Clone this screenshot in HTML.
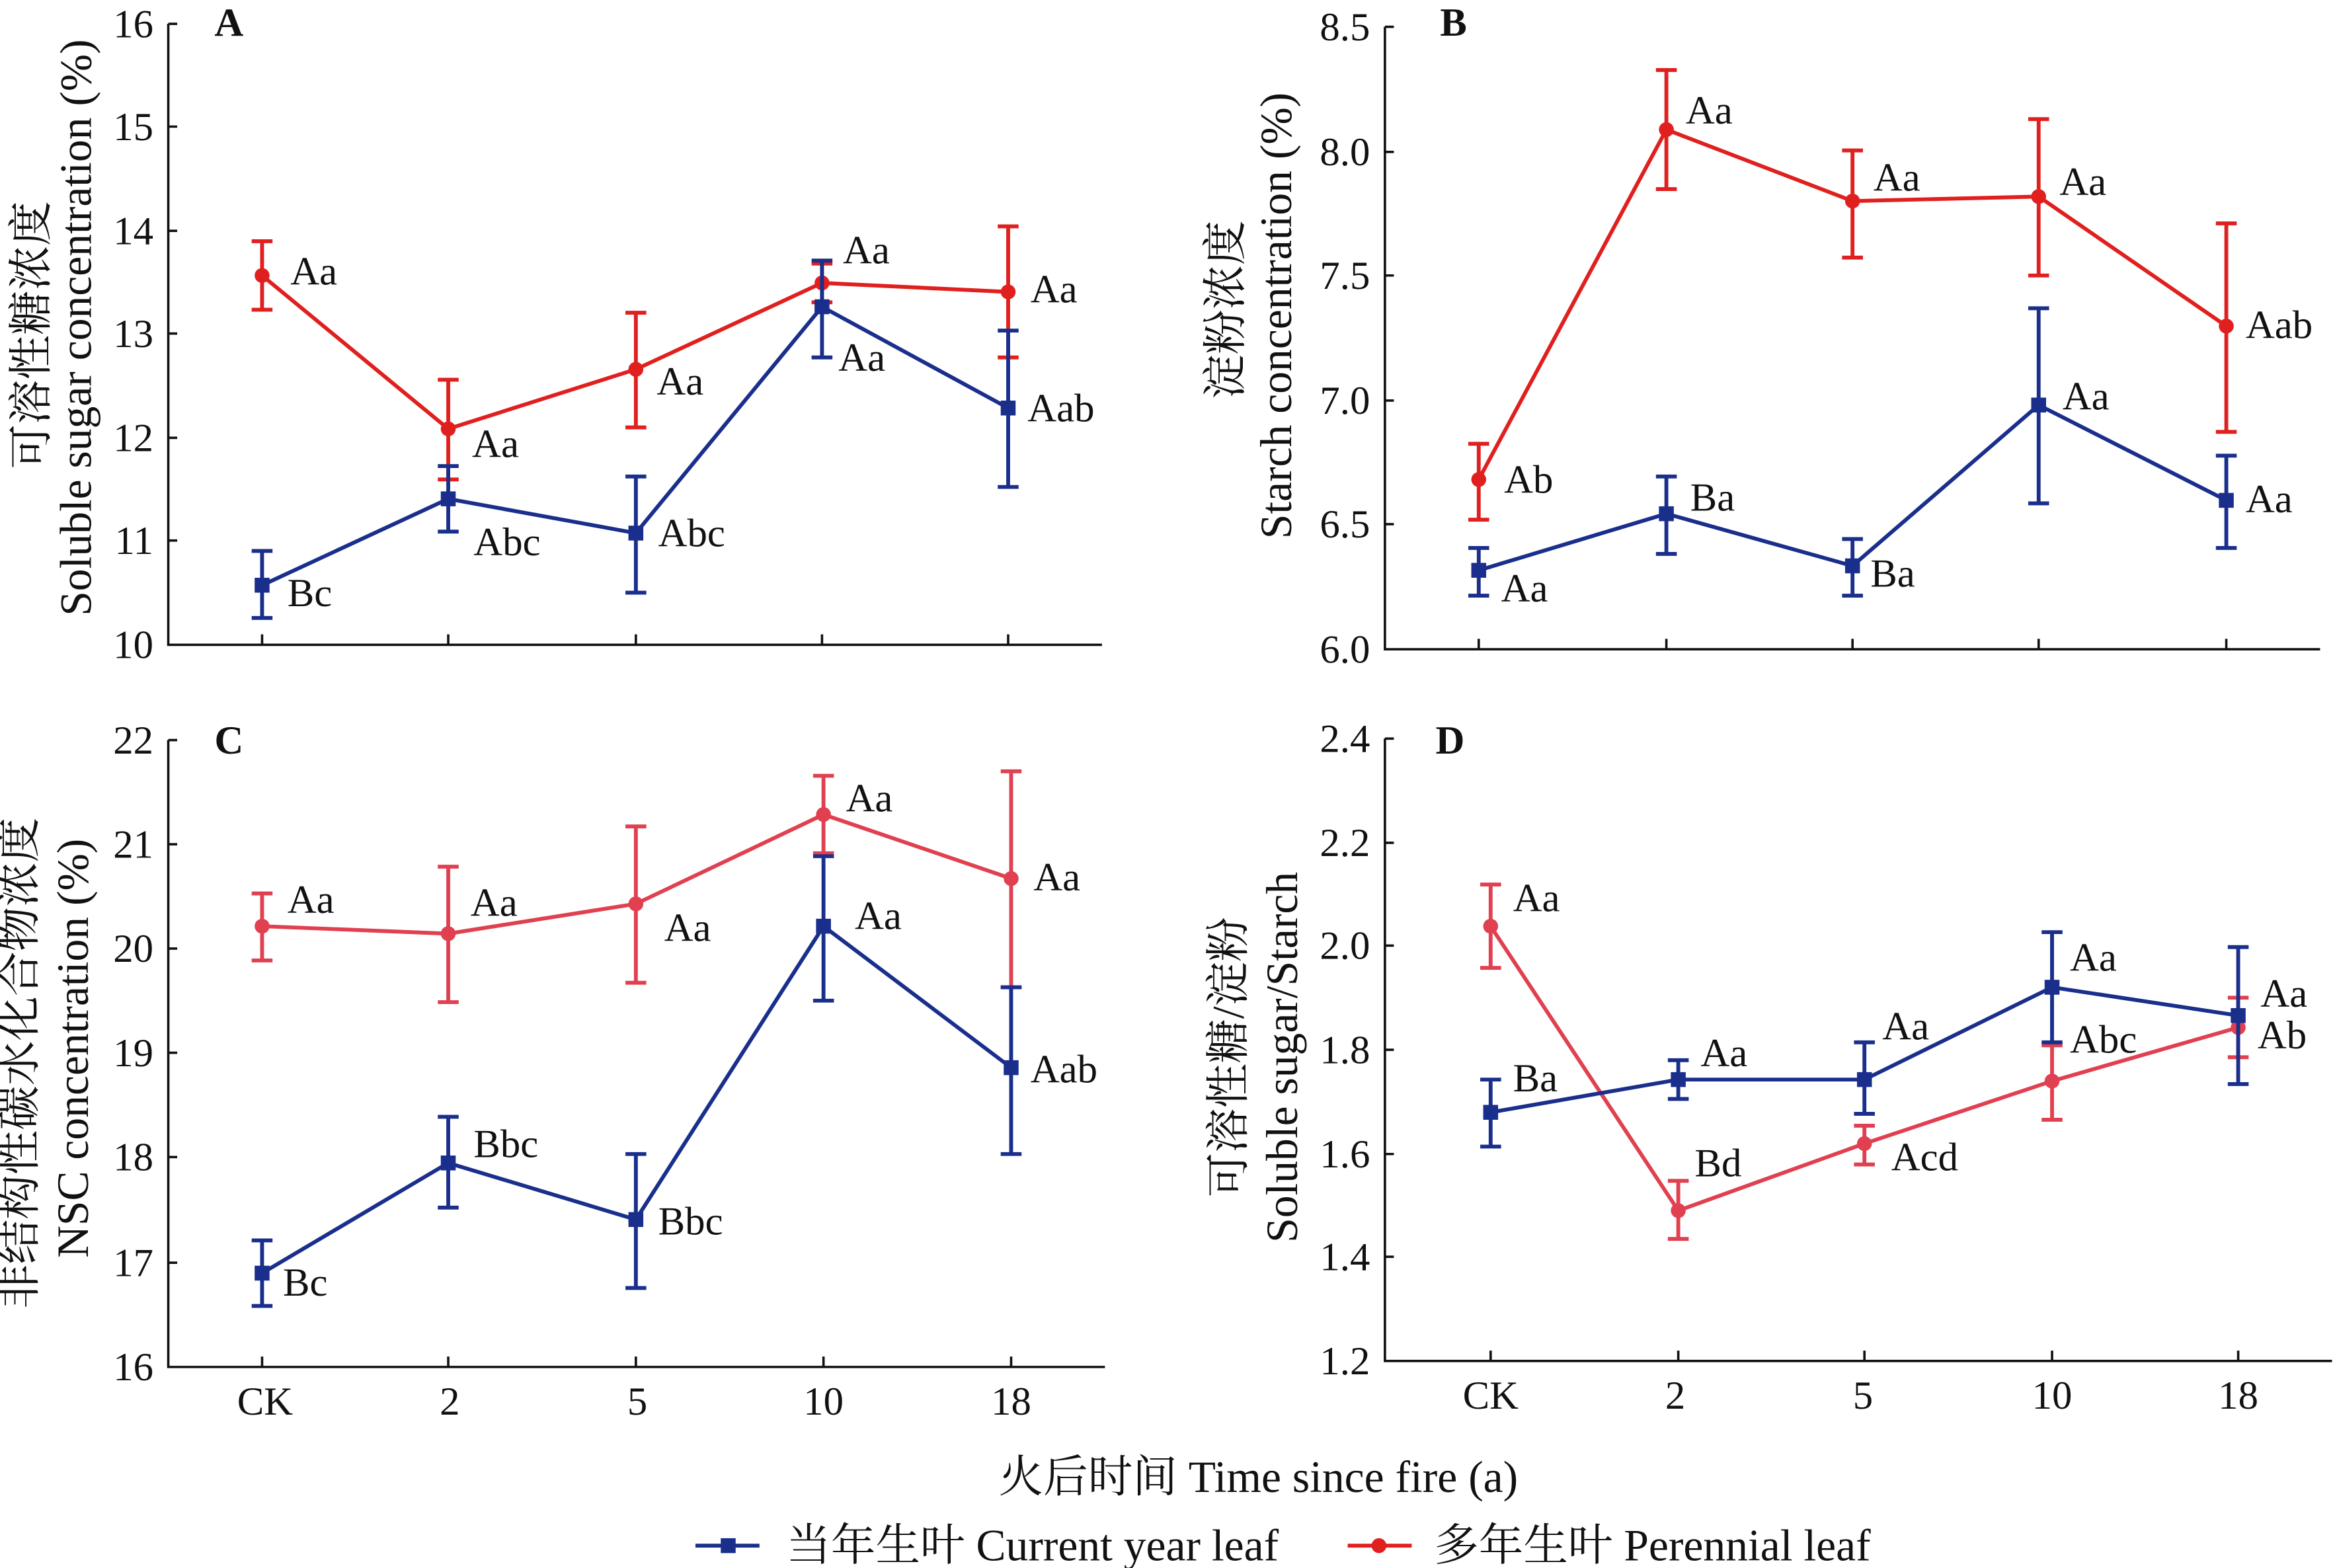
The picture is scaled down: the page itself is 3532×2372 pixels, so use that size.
<!DOCTYPE html>
<html><head><meta charset="utf-8"><style>html,body{margin:0;padding:0;background:#fff}svg{display:block}text{font-family:"Liberation Serif","Noto Serif CJK SC","Noto Sans CJK SC",serif;fill:#111}</style></head><body>
<svg width="3532" height="2372" viewBox="0 0 1568 1053" xmlns="http://www.w3.org/2000/svg">
<g stroke="#111" stroke-width="1.6" fill="none">
<path d="M113 16V433H740"/><path d="M930 18V436H1558"/><path d="M113 497V918H742"/><path d="M930 496V914H1566"/>
<path d="M113 16h6M113 85h6M113 155h6M113 224h6M113 294h6M113 363h6M176 433v-7M301 433v-7M427 433v-7M552 433v-7M677 433v-7"/>
<path d="M930 18h6M930 102h6M930 185h6M930 269h6M930 352h6M993 436v-7M1119 436v-7M1244 436v-7M1369 436v-7M1495 436v-7"/>
<path d="M113 497h6M113 567h6M113 637h6M113 707h6M113 777h6M113 848h6M176 918v-7M301 918v-7M427 918v-7M553 918v-7M679 918v-7"/>
<path d="M930 496h6M930 566h6M930 635h6M930 705h6M930 775h6M930 844h6M1001 914v-7M1127 914v-7M1252 914v-7M1378 914v-7M1503 914v-7"/>
</g>
<g font-size="27" text-anchor="end">
<text x="103" y="25">16</text><text x="103" y="94">15</text><text x="103" y="164">14</text><text x="103" y="233">13</text><text x="103" y="303">12</text><text x="103" y="372">11</text><text x="103" y="442">10</text>
<text x="920" y="27">8.5</text><text x="920" y="111">8.0</text><text x="920" y="194">7.5</text><text x="920" y="278">7.0</text><text x="920" y="361">6.5</text><text x="920" y="445">6.0</text>
<text x="103" y="506">22</text><text x="103" y="576">21</text><text x="103" y="646">20</text><text x="103" y="716">19</text><text x="103" y="786">18</text><text x="103" y="857">17</text><text x="103" y="927">16</text>
<text x="920" y="505">2.4</text><text x="920" y="575">2.2</text><text x="920" y="644">2.0</text><text x="920" y="714">1.8</text><text x="920" y="784">1.6</text><text x="920" y="853">1.4</text><text x="920" y="923">1.2</text>
</g>
<g font-size="27" text-anchor="middle">
<text x="178" y="950">CK</text><text x="302" y="950">2</text><text x="428" y="950">5</text><text x="553" y="950">10</text><text x="679" y="950">18</text>
<text x="1001" y="946">CK</text><text x="1125" y="946">2</text><text x="1251" y="946">5</text><text x="1378" y="946">10</text><text x="1503" y="946">18</text>
</g>
<text x="845" y="1002" font-size="30" text-anchor="middle">火后时间 Time since fire (a)</text>
<g font-size="27" font-weight="bold"><text x="144" y="24">A</text><text x="967" y="24">B</text><text x="144" y="506">C</text><text x="964" y="506">D</text></g>
<g font-size="30" text-anchor="middle">
<text transform="translate(31,225) rotate(-90)">可溶性糖浓度</text><text transform="translate(61,220) rotate(-90)">Soluble sugar concentration (%)</text>
<text transform="translate(833,208) rotate(-90)">淀粉浓度</text><text transform="translate(867,212) rotate(-90)">Starch concentration (%)</text>
<text transform="translate(23,714) rotate(-90)">非结构性碳水化合物浓度</text><text transform="translate(59,704) rotate(-90)">NSC concentration (%)</text>
<text transform="translate(835,710) rotate(-90)">可溶性糖/淀粉</text><text transform="translate(871,710) rotate(-90)">Soluble sugar/Starch</text>
</g>
<!-- A -->
<g stroke="#e0201f" stroke-width="2.6" fill="none"><path d="M176 185L301 288L427 248L552 190L677 196"/><path d="M176 162V208M169 162h14M169 208h14M301 255V322M294 255h14M294 322h14M427 210V287M420 210h14M420 287h14M552 177V203M545 177h14M545 203h14M677 152V240M670 152h14M670 240h14"/></g>
<g fill="#e0201f"><circle cx="176" cy="185" r="5"/><circle cx="301" cy="288" r="5"/><circle cx="427" cy="248" r="5"/><circle cx="552" cy="190" r="5"/><circle cx="677" cy="196" r="5"/></g>
<g stroke="#1a2f8c" stroke-width="2.6" fill="none"><path d="M176 393L301 335L427 358L552 206L677 274"/><path d="M176 370V415M169 370h14M169 415h14M301 313V357M294 313h14M294 357h14M427 320V398M420 320h14M420 398h14M552 175V240M545 175h14M545 240h14M677 222V327M670 222h14M670 327h14"/></g>
<g fill="#1a2f8c"><rect x="171" y="388" width="10" height="10"/><rect x="296" y="330" width="10" height="10"/><rect x="422" y="353" width="10" height="10"/><rect x="547" y="201" width="10" height="10"/><rect x="672" y="269" width="10" height="10"/></g>
<g font-size="27"><text x="195" y="191">Aa</text><text x="317" y="307">Aa</text><text x="441" y="265">Aa</text><text x="566" y="177">Aa</text><text x="692" y="203">Aa</text>
<text x="193" y="407">Bc</text><text x="318" y="373">Abc</text><text x="442" y="367">Abc</text><text x="563" y="249">Aa</text><text x="690" y="283">Aab</text></g>
<!-- B -->
<g stroke="#e0201f" stroke-width="2.6" fill="none"><path d="M993 322L1119 87L1244 135L1369 132L1495 219"/><path d="M993 298V349M986 298h14M986 349h14M1119 47V127M1112 47h14M1112 127h14M1244 101V173M1237 101h14M1237 173h14M1369 80V185M1362 80h14M1362 185h14M1495 150V290M1488 150h14M1488 290h14"/></g>
<g fill="#e0201f"><circle cx="993" cy="322" r="5"/><circle cx="1119" cy="87" r="5"/><circle cx="1244" cy="135" r="5"/><circle cx="1369" cy="132" r="5"/><circle cx="1495" cy="219" r="5"/></g>
<g stroke="#1a2f8c" stroke-width="2.6" fill="none"><path d="M993 383L1119 345L1244 380L1369 272L1495 336"/><path d="M993 368V400M986 368h14M986 400h14M1119 320V372M1112 320h14M1112 372h14M1244 362V400M1237 362h14M1237 400h14M1369 207V338M1362 207h14M1362 338h14M1495 306V368M1488 306h14M1488 368h14"/></g>
<g fill="#1a2f8c"><rect x="988" y="378" width="10" height="10"/><rect x="1114" y="340" width="10" height="10"/><rect x="1239" y="375" width="10" height="10"/><rect x="1364" y="267" width="10" height="10"/><rect x="1490" y="331" width="10" height="10"/></g>
<g font-size="27"><text x="1010" y="331">Ab</text><text x="1132" y="83">Aa</text><text x="1258" y="128">Aa</text><text x="1383" y="131">Aa</text><text x="1508" y="227">Aab</text>
<text x="1008" y="404">Aa</text><text x="1135" y="343">Ba</text><text x="1256" y="394">Ba</text><text x="1385" y="275">Aa</text><text x="1508" y="344">Aa</text></g>
<!-- C -->
<g stroke="#e04050" stroke-width="2.6" fill="none"><path d="M176 622L301 627L427 607L553 547L679 590"/><path d="M176 600V645M169 600h14M169 645h14M301 582V673M294 582h14M294 673h14M427 555V660M420 555h14M420 660h14M553 521V573M546 521h14M546 573h14M679 518V663M672 518h14M672 663h14"/></g>
<g fill="#e04050"><circle cx="176" cy="622" r="5"/><circle cx="301" cy="627" r="5"/><circle cx="427" cy="607" r="5"/><circle cx="553" cy="547" r="5"/><circle cx="679" cy="590" r="5"/></g>
<g stroke="#1a2f8c" stroke-width="2.6" fill="none"><path d="M176 855L301 781L427 819L553 622L679 717"/><path d="M176 833V877M169 833h14M169 877h14M301 750V811M294 750h14M294 811h14M427 775V865M420 775h14M420 865h14M553 575V672M546 575h14M546 672h14M679 663V775M672 663h14M672 775h14"/></g>
<g fill="#1a2f8c"><rect x="171" y="850" width="10" height="10"/><rect x="296" y="776" width="10" height="10"/><rect x="422" y="814" width="10" height="10"/><rect x="548" y="617" width="10" height="10"/><rect x="674" y="712" width="10" height="10"/></g>
<g font-size="27"><text x="193" y="613">Aa</text><text x="316" y="615">Aa</text><text x="446" y="632">Aa</text><text x="568" y="545">Aa</text><text x="694" y="598">Aa</text>
<text x="190" y="870">Bc</text><text x="318" y="777">Bbc</text><text x="442" y="829">Bbc</text><text x="574" y="624">Aa</text><text x="692" y="727">Aab</text></g>
<!-- D -->
<g stroke="#e04050" stroke-width="2.6" fill="none"><path d="M1001 622L1127 813L1252 768L1378 726L1503 690"/><path d="M1001 594V650M994 594h14M994 650h14M1127 793V832M1120 793h14M1120 832h14M1252 756V782M1245 756h14M1245 782h14M1378 702V752M1371 702h14M1371 752h14M1503 670V710M1496 670h14M1496 710h14"/></g>
<g fill="#e04050"><circle cx="1001" cy="622" r="5"/><circle cx="1127" cy="813" r="5"/><circle cx="1252" cy="768" r="5"/><circle cx="1378" cy="726" r="5"/><circle cx="1503" cy="690" r="5"/></g>
<g stroke="#1a2f8c" stroke-width="2.6" fill="none"><path d="M1001 747L1127 725L1252 725L1378 663L1503 682"/><path d="M1001 725V770M994 725h14M994 770h14M1127 712V738M1120 712h14M1120 738h14M1252 700V748M1245 700h14M1245 748h14M1378 626V700M1371 626h14M1371 700h14M1503 636V728M1496 636h14M1496 728h14"/></g>
<g fill="#1a2f8c"><rect x="996" y="742" width="10" height="10"/><rect x="1122" y="720" width="10" height="10"/><rect x="1247" y="720" width="10" height="10"/><rect x="1373" y="658" width="10" height="10"/><rect x="1498" y="677" width="10" height="10"/></g>
<g font-size="27"><text x="1016" y="612">Aa</text><text x="1138" y="790">Bd</text><text x="1270" y="786">Acd</text><text x="1390" y="707">Abc</text><text x="1516" y="704">Ab</text>
<text x="1016" y="733">Ba</text><text x="1142" y="716">Aa</text><text x="1264" y="698">Aa</text><text x="1390" y="652">Aa</text><text x="1518" y="676">Aa</text></g>
<!-- legend -->
<path d="M467 1038H510" stroke="#1a2f8c" stroke-width="2.6"/><rect x="484" y="1033" width="10" height="10" fill="#1a2f8c"/>
<text x="528" y="1048" font-size="30">当年生叶 Current year leaf</text>
<path d="M905 1038H948" stroke="#e0201f" stroke-width="2.6"/><circle cx="926" cy="1038" r="5" fill="#e0201f"/>
<text x="963" y="1048" font-size="30">多年生叶 Perennial leaf</text>
</svg>
</body></html>
